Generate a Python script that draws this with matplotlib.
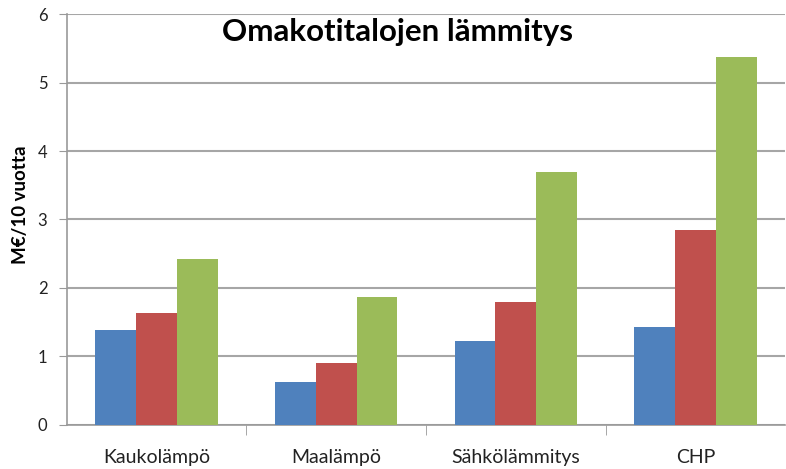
import numpy as np
import matplotlib
matplotlib.use("Agg")
import matplotlib.pyplot as plt

categories = ["Kaukolämpö", "Maalämpö", "Sähkölämmitys", "CHP"]
series_blue = [1.38, 0.63, 1.23, 1.43]
series_red = [1.63, 0.90, 1.79, 2.85]
series_green = [2.43, 1.87, 3.70, 5.37]
yticks = [0, 1, 2, 3, 4, 5, 6]

plt.rcParams["font.family"] = ["Lato", "DejaVu Sans"]

fig = plt.figure(figsize=(7.86, 4.69), dpi=100)
ax = fig.add_axes([0.085, 0.094, 0.914, 0.876])

x = np.arange(len(categories))
w = 0.227
colors = ["#4F81BD", "#C0504D", "#9BBB59"]
for i, (vals, c) in enumerate(zip([series_blue, series_red, series_green], colors)):
    ax.bar(x + (i - 1) * w, vals, width=w, color=c, zorder=3)

ax.set_xlim(-0.5, len(categories) - 0.5)
ax.set_ylim(0, 6)
ax.set_yticks(yticks)
ax.set_yticklabels([str(v) for v in yticks], fontsize=12, color="#222222")
ax.set_xticks(x)
ax.set_xticklabels(categories, fontsize=14, color="#222222")
ax.tick_params(axis="x", length=0, pad=17)
ax.set_xticks(np.arange(0.5, len(categories) - 1, 1), minor=True)
ax.tick_params(axis="x", which="minor", length=7, color="#999999", direction="out")
ax.tick_params(axis="y", length=6, color="#999999", pad=8)

ax.grid(axis="y", color="#a6a6a6", linewidth=1.5, zorder=0)
for s in ["top", "right"]:
    ax.spines[s].set_visible(False)
for s in ["left", "bottom"]:
    ax.spines[s].set_color("#999999")
    ax.spines[s].set_linewidth(1.2)

ax.set_ylabel("M€/10 vuotta", fontsize=13.5, fontweight="bold")
ax.yaxis.set_label_coords(-0.052, 0.535)
fig.text(397 / 786, 1 - 32 / 469, "Omakotitalojen lämmitys", fontsize=22.5,
         fontweight="bold", ha="center", va="center")

fig.savefig("out.png", dpi=100)
